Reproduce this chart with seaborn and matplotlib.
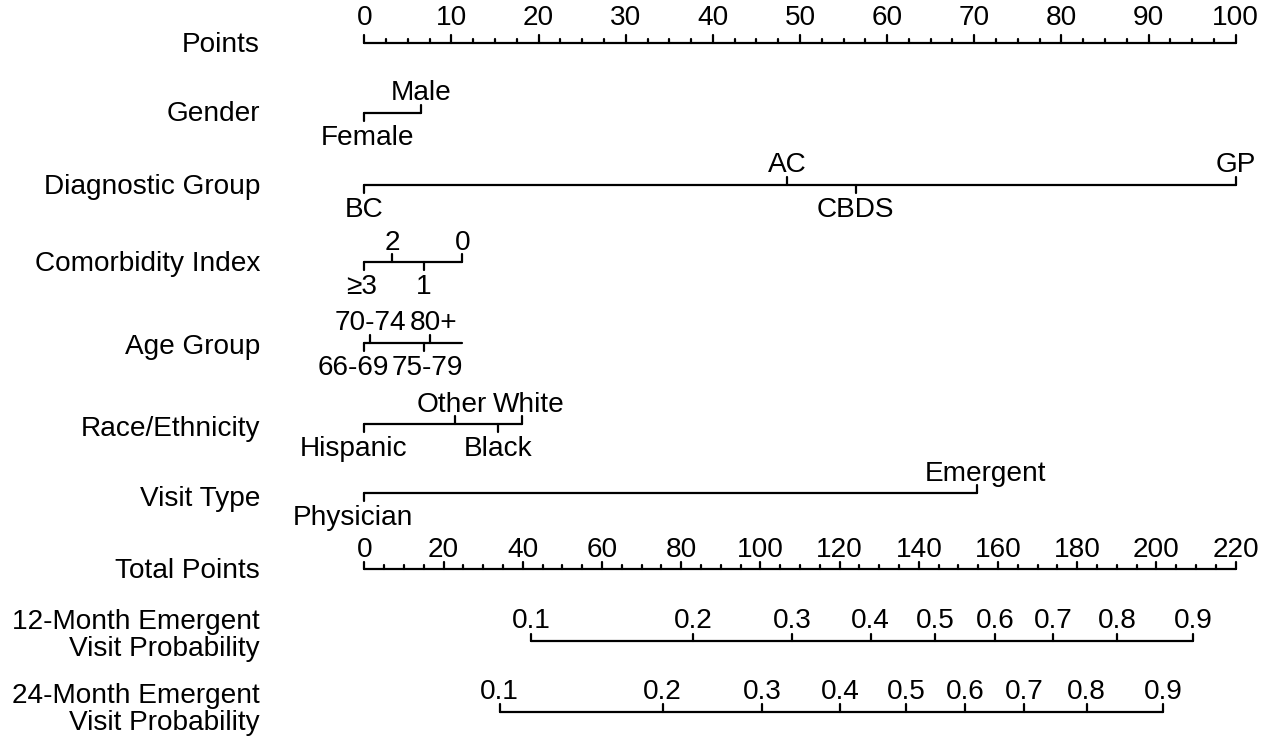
import matplotlib
matplotlib.use("Agg")
import matplotlib.pyplot as plt
import numpy as np
import pandas as pd
import seaborn as sns

# ---------------- data ----------------
points_ticks = list(range(0, 101, 10))
points_minor_step = 2.5

gender_levels = ["Female", "Male"]
gender_points = [0.0, 6.5]

diag_levels = ["BC", "AC", "CBDS", "GP"]
diag_points = [0.0, 48.5, 56.4, 100.0]

comorb_levels = ["≥3", "2", "1", "0"]
comorb_points = [0.0, 3.2, 6.8, 11.25]

age_levels = ["66-69", "70-74", "75-79", "80+"]
age_points = [0.0, 0.65, 6.8, 7.5]
age_axis_end = 11.25

race_levels = ["Hispanic", "Other", "Black", "White"]
race_points = [0.0, 10.4, 15.4, 18.1]

visit_levels = ["Physician", "Emergent"]
visit_points = [0.0, 70.35]

total_ticks = list(range(0, 221, 20))
total_minor_step = 5
total_max = 220

prob_levels = [0.1, 0.2, 0.3, 0.4, 0.5, 0.6, 0.7, 0.8, 0.9]
prob12_total = [42.05, 83.0, 108.1, 127.8, 144.1, 159.3, 174.0, 190.1, 209.3]
prob24_total = [34.2, 75.3, 100.4, 120.1, 136.7, 151.7, 166.5, 182.4, 201.6]

row_names = ["Points", "Gender", "Diagnostic Group", "Comorbidity Index",
             "Age Group", "Race/Ethnicity", "Visit Type", "Total Points",
             "12-Month Emergent\nVisit Probability",
             "24-Month Emergent\nVisit Probability"]

# ---------------- layout (pixel rows, px per point) ----------------
W, H = 1283, 741
X0, PX = 364.3, 8.714          # pixel of 0 points, pixels per point
row_y = {"Points": 42.7, "Gender": 112.7, "Diagnostic Group": 185.0,
         "Comorbidity Index": 262.3, "Age Group": 342.7, "Race/Ethnicity": 424.0,
         "Visit Type": 493.3, "Total Points": 569.3,
         row_names[8]: 641.0, row_names[9]: 711.7}
label_base = {"Points": 52, "Gender": 121, "Diagnostic Group": 193.5,
              "Comorbidity Index": 271, "Age Group": 354, "Race/Ethnicity": 436,
              "Visit Type": 506, "Total Points": 578}
two_line_base = {row_names[8]: (629.3, 656.0), row_names[9]: (703.3, 730.0)}
label_nudge_px = {"66-69": -11, "75-79": 4, "80+": 4, "Other": -3, "White": 7,
                  "Hispanic": -11, "Physician": -11, "Female": 3, "≥3": -2.5,
                  "Emergent": 8}
FS = 20.2
FAM = ["Liberation Sans", "DejaVu Sans"]

sns.set_theme(style="white")
plt.rcParams["font.family"] = FAM

fig = plt.figure(figsize=(W / 100, H / 100), dpi=100)
ax = fig.add_axes([0, 0, 1, 1])
ax.set_xlim(-X0 / PX, (W - X0) / PX)
ax.set_ylim(H, 0)
ax.axis("off")

segs = []


def seg(x0, y0, x1, y1):
    sid = len(segs)
    segs.append({"seg": sid, "x": x0, "y": y0})
    segs.append({"seg": sid, "x": x1, "y": y1})


def txt(x, y, s, ha="center", va="baseline"):
    ax.text(x, y, s, ha=ha, va=va, fontsize=FS, family=FAM, color="black")


def numeric_axis(y, lo, hi, major_vals, major_labels, minor_step, scale, lab_off):
    seg(lo * scale, y, hi * scale, y)
    for v, lab in zip(major_vals, major_labels):
        seg(v * scale, y, v * scale, y - 7.5)
        txt(v * scale, y - lab_off, lab)
    if minor_step:
        for v in np.arange(lo, hi + 1e-9, minor_step):
            if not any(abs(v - m) < 1e-9 for m in major_vals):
                seg(v * scale, y, v * scale, y - 4)


def cat_axis(y, levels, pts, end=None):
    order = np.argsort(pts)
    right = max(pts) if end is None else end
    seg(min(pts), y, right, y)
    for k, i in enumerate(order):
        x = pts[i]
        lab = levels[i]
        xl = x + label_nudge_px.get(lab, 0) / PX
        if k % 2 == 0:
            seg(x, y, x, y + 8)
            txt(xl, y + 32, lab)
        else:
            seg(x, y, x, y - 8)
            txt(xl, y - 12.5, lab)


# Points axis
numeric_axis(row_y["Points"], 0, 100, points_ticks, [str(v) for v in points_ticks],
             points_minor_step, 1.0, 18)
cat_axis(row_y["Gender"], gender_levels, gender_points)
cat_axis(row_y["Diagnostic Group"], diag_levels, diag_points)
cat_axis(row_y["Comorbidity Index"], comorb_levels, comorb_points)
cat_axis(row_y["Age Group"], age_levels, age_points, end=age_axis_end)
cat_axis(row_y["Race/Ethnicity"], race_levels, race_points)
cat_axis(row_y["Visit Type"], visit_levels, visit_points)
tscale = 100.0 / total_max
numeric_axis(row_y["Total Points"], 0, total_max, total_ticks,
             [str(v) for v in total_ticks], total_minor_step, tscale, 12.6)
for name, tot in [(row_names[8], prob12_total), (row_names[9], prob24_total)]:
    y = row_y[name]
    seg(tot[0] * tscale, y, tot[-1] * tscale, y)
    for p, t in zip(prob_levels, tot):
        seg(t * tscale, y, t * tscale, y - 7.5)
        txt(t * tscale, y - 12.7, f"{p:.1f}")

df = pd.DataFrame(segs)
sns.lineplot(data=df, x="x", y="y", units="seg", estimator=None, sort=False,
             color="black", linewidth=1.6, ax=ax, legend=False)
ax.set_xlim(-X0 / PX, (W - X0) / PX)
ax.set_ylim(H, 0)
ax.axis("off")

# Row labels
lab_x = (260 - X0) / PX
for name in row_names[:8]:
    txt(lab_x, label_base[name], name, ha="right")
for name in row_names[8:]:
    l1, l2 = name.split("\n")
    b1, b2 = two_line_base[name]
    txt(lab_x, b1, l1, ha="right")
    txt(lab_x, b2, l2, ha="right")

fig.savefig("out.png", dpi=100, facecolor="white")
